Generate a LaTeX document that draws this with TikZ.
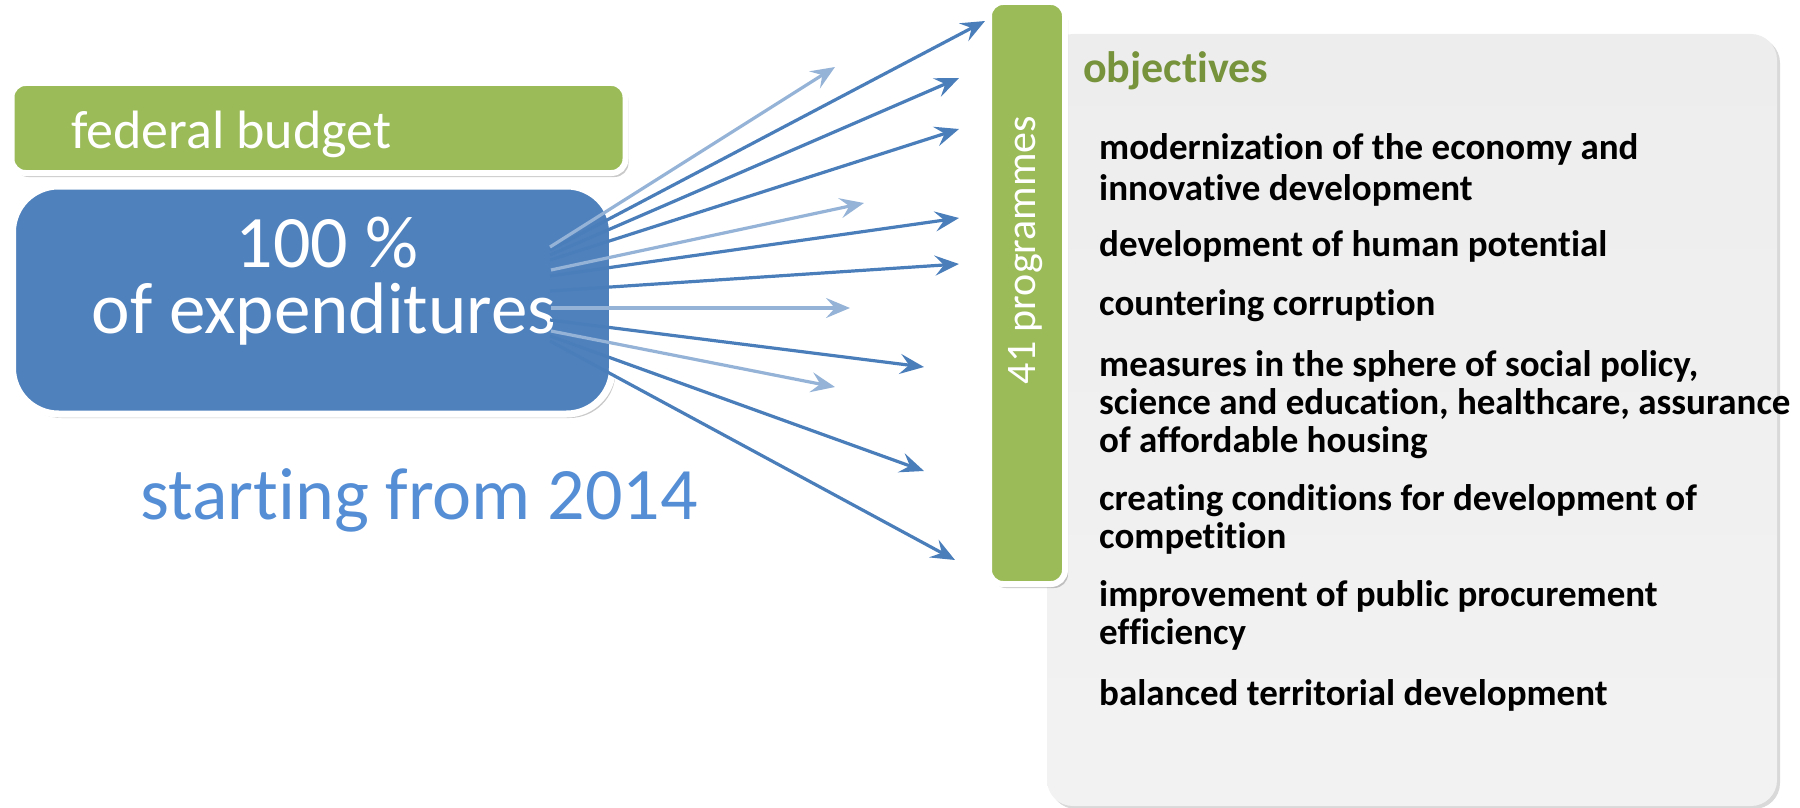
\documentclass[tikz,border=0pt]{standalone}
\usepackage{fontspec}
\setmainfont{Carlito}[Ligatures=CommonOff]
\usetikzlibrary{arrows.meta,shadows}
\definecolor{fbgreen}{HTML}{9BBB59}
\definecolor{boxblue}{HTML}{4F81BD}
\definecolor{arrdark}{HTML}{4A7EBB}
\definecolor{arrlight}{HTML}{95B3D7}
\definecolor{txtblue}{HTML}{558ED5}
\definecolor{objgreen}{HTML}{77933C}
\definecolor{grayA}{HTML}{EDEDED}
\definecolor{grayB}{HTML}{D5D5D5}
\begin{document}
\begin{tikzpicture}[x=1pt,y=-1pt,
  card/.style={draw=white, line width=6pt, inner sep=0pt,
    drop shadow={shadow xshift=3pt, shadow yshift=-4pt, opacity=0.3, fill=black!70}},
  darrow/.style={draw=arrdark, line width=3.2pt, -{Stealth[length=24pt,width=20pt,inset=9pt]}},
  larrow/.style={draw=arrlight, line width=3.2pt, -{Stealth[length=24pt,width=20pt,inset=9pt]}},
  itemtxt/.style={anchor=base west, inner sep=0pt, font=\fontsize{37}{41}\selectfont\bfseries, text=black},
]
\useasboundingbox (0,0) rectangle (1800,808);

% objectives panel
\node (obj) [rectangle, rounded corners=26pt, minimum width=730pt, minimum height=772pt,
  top color=grayA, middle color=grayB, bottom color=grayA!70!white,
  drop shadow={shadow xshift=3pt, shadow yshift=-3pt, opacity=0.25, fill=black!60}] at (1412,420) {};

% federal budget
\node (fb) [card, rectangle, rounded corners=14pt, fill=fbgreen, minimum width=614pt, minimum height=90pt] at (318.5,128) {};
\node (fbt) [anchor=base west, inner sep=0pt, text=white, font=\fontsize{54}{64}\selectfont] at (71,148) {federal budget};

% expenditures box
\node (exp) [card, line width=7pt, rectangle, rounded corners=46pt, fill=boxblue, minimum width=600pt, minimum height=228pt] at (312.5,300) {};
\node (e1) [anchor=base, inner sep=0pt, text=white, font=\fontsize{74}{80}\selectfont] at (327,267) {100 \%};
\node (e2) [anchor=base, inner sep=0pt, text=white, font=\fontsize{73}{80}\selectfont] at (324,333) {of expenditures};

\node (start) [anchor=base, inner sep=0pt, text=txtblue, font=\fontsize{74}{80}\selectfont] at (419,519) {starting from 2014};

% programmes bar
\node (prog) [card, rectangle, rounded corners=14pt, fill=fbgreen, minimum width=76pt, minimum height=582pt] at (1027,293) {};
\node (progt) [rotate=90, inner sep=0pt, text=white, font=\fontsize{42}{50}\selectfont] at (1026,250) {41 programmes};

% arrow coordinates
\coordinate (s1) at (550,247); \coordinate (t1) at (835,67);
\coordinate (s2) at (550,250); \coordinate (t2) at (985,21);
\coordinate (s3) at (550,255); \coordinate (t3) at (959,78);
\coordinate (s4) at (550,260); \coordinate (t4) at (959,129);
\coordinate (s5) at (551,270); \coordinate (t5) at (864,203);
\coordinate (s6) at (550,276); \coordinate (t6) at (959,218);
\coordinate (s7) at (550,291); \coordinate (t7) at (959,264);
\coordinate (s8) at (551,308); \coordinate (t8) at (850,308);
\coordinate (s9) at (550,320); \coordinate (t9) at (924,367);
\coordinate (s10) at (551,331); \coordinate (t10) at (835,387);
\coordinate (s11) at (550,336); \coordinate (t11) at (924,471);
\coordinate (s12) at (550,341); \coordinate (t12) at (955,560);

\draw[darrow] (s2) -- (t2);
\draw[darrow] (s3) -- (t3);
\draw[darrow] (s4) -- (t4);
\draw[darrow] (s6) -- (t6);
\draw[darrow] (s7) -- (t7);
\draw[darrow] (s9) -- (t9);
\draw[darrow] (s11) -- (t11);
\draw[darrow] (s12) -- (t12);
\draw[larrow] (s1) -- (t1);
\draw[larrow] (s5) -- (t5);
\draw[larrow] (s8) -- (t8);
\draw[larrow] (s10) -- (t10);

% objectives text
\node (objt) [anchor=base west, inner sep=0pt, text=objgreen, font=\fontsize{44}{50}\selectfont\bfseries] at (1083,83) {objectives};
\node (o1a) [itemtxt] at (1099,159) {modernization of the economy and};
\node (o1b) [itemtxt] at (1099,200) {innovative development};
\node (o2) [itemtxt] at (1099,256) {development of human potential};
\node (o3) [itemtxt] at (1099,315) {countering corruption};
\node (o4a) [itemtxt] at (1099,376) {measures in the sphere of social policy,};
\node (o4b) [itemtxt] at (1099,414) {science and education, healthcare, assurance};
\node (o4c) [itemtxt] at (1099,452) {of affordable housing};
\node (o5a) [itemtxt] at (1099,510) {creating conditions for development of};
\node (o5b) [itemtxt] at (1099,548) {competition};
\node (o6a) [itemtxt] at (1099,606) {improvement of public procurement};
\node (o6b) [itemtxt] at (1099,644) {efficiency};
\node (o7) [itemtxt] at (1099,705) {balanced territorial development};
\end{tikzpicture}
\end{document}
